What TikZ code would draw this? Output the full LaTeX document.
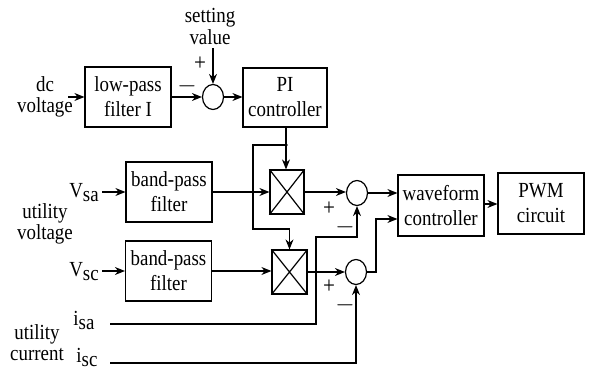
\documentclass[tikz,border=0pt]{standalone}
\usepackage{fontspec}
\setmainfont{Liberation Serif}[FakeStretch=0.88]
\usetikzlibrary{arrows.meta,shapes.geometric,calc}
\begin{document}
\begin{tikzpicture}[x=1pt,y=-1pt,line width=1.2pt,
  every node/.style={font=\fontsize{21.5}{21}\selectfont, inner sep=0pt},
  blk/.style={draw, minimum width=86pt, minimum height=60pt, align=center, font=\fontsize{21.5}{25}\selectfont},
  mult/.style={draw, minimum width=34pt, minimum height=44pt},
  sumn/.style={draw, ellipse, minimum width=21pt, minimum height=25pt},
  lbl/.style={align=center},
  sgn/.style={font=\fontsize{24}{24}\selectfont},
  arr/.style={-{Stealth[length=10pt,width=8pt]}}]
\useasboundingbox (0,0) rectangle (595,372);
% blocks
\node[blk] (lp) at (128,97) {low-pass\\filter I};
\node[blk, minimum width=84pt, minimum height=59pt] (pi) at (285,97.5) {PI\\controller};
\node[blk] (bp1) at (169,192) {band-pass\\filter};
\node[blk] (bp2) at (168.5,271) {band-pass\\filter};
\node[blk, minimum height=61pt] (wf) at (441,205.5) {waveform\\controller};
\node[blk, minimum height=61pt] (pwm) at (541,203.5) {PWM\\circuit};
\node[mult] (m1) at (287,192) {};
\node[mult, minimum width=35pt] (m2) at (289.5,272) {};
\draw (m1.north west) -- (m1.south east) (m1.north east) -- (m1.south west);
\draw (m2.north west) -- (m2.south east) (m2.north east) -- (m2.south west);
\node[sumn] (s0) at (213,97) {};
\node[sumn] (s1) at (357,193) {};
\node[sumn] (s2) at (356,272) {};
% labels
\node[lbl] (dc) at (45,97) {dc\\voltage};
\node[lbl, font=\fontsize{21.5}{22}\selectfont] (sv) at (210,26) {setting\\value};
\node (vsa) at (84,193) {V\raisebox{-4pt}{sa}};
\node (vsc) at (84,272) {V\raisebox{-4pt}{sc}};
\node[lbl] (uv) at (45,224) {utility\\voltage};
\node (isa) at (84,320) {i\raisebox{-4pt}{sa}};
\node[lbl] (uc) at (37,343) {utility\\current};
\node (isc) at (87,357) {i\raisebox{-4pt}{sc}};
% signs
\node[sgn] (p0) at (200,64) {+};
\node[sgn] (n0) at (187,86) {$-$};
\node[sgn] (p1) at (329,209) {+};
\node[sgn] (n1) at (345,227) {$-$};
\node[sgn] (p2) at (329,287) {+};
\node[sgn] (n2) at (345,305) {$-$};
% coordinates
\coordinate (dcs) at (68,97);
\coordinate (svs) at (213,48);
\coordinate (j) at (286,145);
\coordinate (vsas) at (102,192);
\coordinate (vscs) at (102,271);
\coordinate (isas) at (110,324);
\coordinate (iscs) at (110,363);
% connectors
\draw[arr] (dcs) -- (lp.west |- dcs);
\draw[arr] (svs) -- (s0.north);
\draw[arr] (lp.east) -- (s0.west);
\draw[arr] (s0.east) -- (pi.west |- s0.east);
\draw (pi.south -| j) -- (j);
\fill (j) circle (1.8pt);
\draw[arr] (j) -- (m1.north -| j);
\draw[arr] (j) -- (253,145) -- (253,229) -- (m2.north |- 0,229) -- (m2.north);
\draw[arr] (vsas) -- (bp1.west |- vsas);
\draw[arr] (vscs) -- (bp2.west |- vscs);
\draw[arr] (bp1.east) -- (m1.west);
\draw[arr] (bp2.east) -- (m2.west |- bp2.east);
\draw[arr] (m1.east) -- (s1.west |- m1.east);
\draw[arr] (m2.east) -- (s2.west);
\draw[arr] (isas) -- (316,324) -- (316,237) -- (s1.south |- 0,237) -- (s1.south);
\draw[arr] (iscs) -- (s2.south |- iscs) -- (s2.south);
\draw[arr] (s1.east) -- (wf.west |- s1.east);
\draw[arr] (s2.east) -- (376,272) -- (376,219) -- (wf.west |- 0,219);
\draw[arr] (wf.east |- 0,204) -- (pwm.west |- 0,204);
\end{tikzpicture}
\end{document}
